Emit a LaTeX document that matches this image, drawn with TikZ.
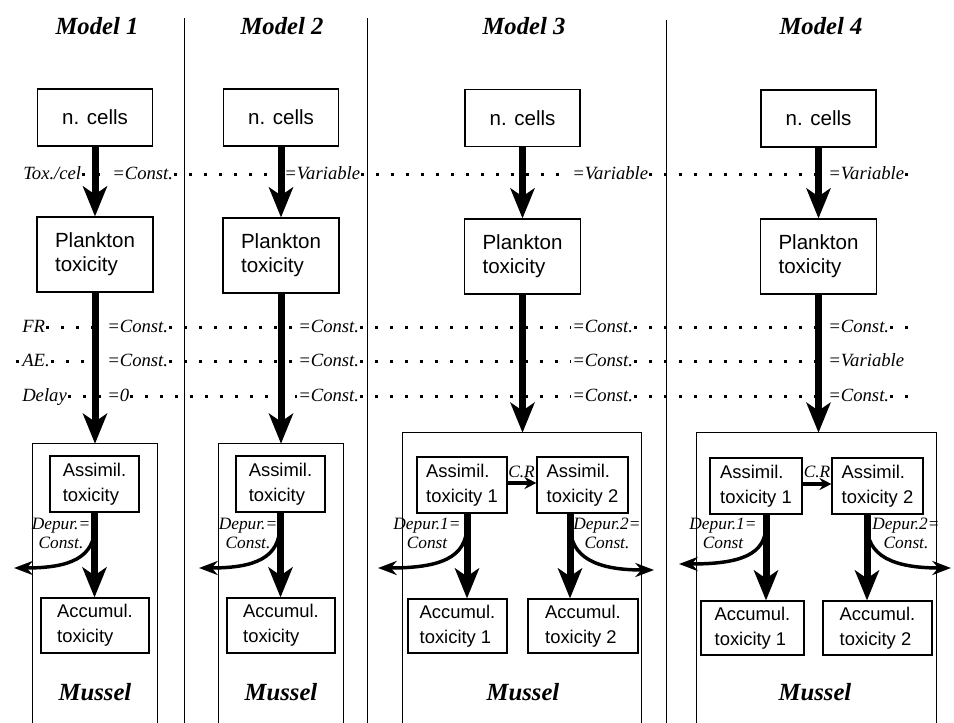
\documentclass[tikz,border=0pt]{standalone}
\usepackage{fontspec}
\setmainfont{Liberation Serif}
\setsansfont{Liberation Sans}
\usetikzlibrary{arrows.meta}
\begin{document}
\begin{tikzpicture}[x=0.75pt,y=-0.75pt,
 box/.style={draw, line width=0.8pt, font=\sffamily\fontsize{15.4}{18}\selectfont, align=left, inner sep=0pt},
 ibox/.style={draw, line width=0.8pt, font=\sffamily\fontsize{13.8}{18.5}\selectfont, align=left, inner sep=0pt},
 ttl/.style={font=\bfseries\itshape\fontsize{18.5}{20}\selectfont, anchor=base, inner sep=0pt},
 lbl/.style={font=\itshape\fontsize{14}{16}\selectfont, inner sep=0.75pt, text height=7.5pt, text depth=0pt, anchor=west},
 dlbl/.style={font=\itshape\fontsize{13}{14.25}\selectfont, align=center, inner sep=0pt},
 dotrow/.style={line width=2.25pt, dash pattern=on 2.25pt off 9pt},
 big/.style={line width=5.25pt, -{Stealth[length=22.5pt, width=18pt, inset=6pt]}},
 depur/.style={line width=2.6pt, -{Stealth[length=14pt, width=10.5pt, inset=4.5pt]}},
 cr/.style={line width=3pt, -{Stealth[length=9pt, width=9pt, inset=3pt]}},
 sepline/.style={line width=0.6pt},
 shell/.style={draw=none, inner sep=0pt}]
\useasboundingbox (0,0) rectangle (954,723);

% separators
\draw[sepline] (184,18) -- (184,723);
\draw[sepline] (367,18) -- (367,723);
\draw[sepline] (666,20) -- (666,723);

% titles
\node[ttl] (tt1) at (97,35) {Model 1};
\node[ttl] (tt2) at (282,35) {Model 2};
\node[ttl] (tt3) at (524,35) {Model 3};
\node[ttl] (tt4) at (821,35) {Model 4};

% top boxes
\node[box, minimum width=86.25pt, minimum height=42.75pt] (nc1) at (95,117.5) {n. cells};
\node[box, minimum width=86.25pt, minimum height=42.75pt] (nc2) at (281,117.5) {n. cells};
\node[box, minimum width=86.25pt, minimum height=42.75pt] (nc3) at (522.5,118) {n. cells};
\node[box, minimum width=86.25pt, minimum height=42.75pt] (nc4) at (818.5,118.5) {n. cells};

\node[box, minimum width=87pt, minimum height=56.25pt] (pt1) at (95,254.5) {Plankton\\toxicity};
\node[box, minimum width=87pt, minimum height=56.25pt] (pt2) at (281,255.5) {Plankton\\toxicity};
\node[box, minimum width=87pt, minimum height=56.25pt] (pt3) at (522.5,256.5) {Plankton\\toxicity};
\node[box, minimum width=87pt, minimum height=56.25pt] (pt4) at (818.5,256.5) {Plankton\\toxicity};

% row labels: Tox./cel
\node[lbl] (tox) at (22,175) {Tox./cel};
\node[lbl] (t1) at (111,175) {=Const.};
\node[lbl] (t2) at (283,175) {=Variable};
\node[lbl] (t3) at (571,175) {=Variable};
\node[lbl] (t4) at (827,175) {=Variable};
\coordinate (tend) at (918,175);
\draw[dotrow] (tox.east) -- (t1.west);
\draw[dotrow] (t1.east) -- (t2.west);
\draw[dotrow] (t2.east) -- (t3.west);
\draw[dotrow] (t3.east) -- (t4.west);
\draw[dotrow] (t4.east) -- (tend);

% FR
\node[lbl] (fr) at (21,328) {FR};
\node[lbl] (f1) at (106,328) {=Const.};
\node[lbl] (f2) at (297,328) {=Const.};
\node[lbl] (f3) at (571,328) {=Const.};
\node[lbl] (f4) at (827,328) {=Const.};
\coordinate (fend) at (920,328);
\draw[dotrow] (fr.east) -- (f1.west);
\draw[dotrow] (f1.east) -- (f2.west);
\draw[dotrow] (f2.east) -- (f3.west);
\draw[dotrow] (f3.east) -- (f4.west);
\draw[dotrow] (f4.east) -- (fend);

% AE
\coordinate (aedot) at (16,362);
\node[lbl] (ae) at (21,362) {AE.};
\node[lbl] (a1) at (106,362) {=Const.};
\node[lbl] (a2) at (297,362) {=Const.};
\node[lbl] (a3) at (571,362) {=Const.};
\node[lbl] (a4) at (827,362) {=Variable};
\draw[dotrow] (aedot) -- (ae.west);
\draw[dotrow] (ae.east) -- (a1.west);
\draw[dotrow] (a1.east) -- (a2.west);
\draw[dotrow] (a2.east) -- (a3.west);
\draw[dotrow] (a3.east) -- (a4.west);

% Delay
\node[lbl] (dl) at (21,397) {Delay};
\node[lbl] (d1) at (106,397) {=0};
\node[lbl] (d2) at (297,397) {=Const.};
\node[lbl] (d3) at (571,397) {=Const.};
\node[lbl] (d4) at (827,397) {=Const.};
\coordinate (dend) at (920,397);
\draw[dotrow] (dl.east) -- (d1.west);
\draw[dotrow] (d1.east) -- (d2.west);
\draw[dotrow] (d2.east) -- (d3.west);
\draw[dotrow] (d3.east) -- (d4.west);
\draw[dotrow] (d4.east) -- (dend);

% mussel shells
\node[shell, minimum width=93pt, minimum height=209.25pt] (mu1) at (95,583.5) {};
\node[shell, minimum width=93pt, minimum height=209.25pt] (mu2) at (281,583.5) {};
\node[shell, minimum width=178.5pt, minimum height=217.5pt] (mu3) at (522,578) {};
\node[shell, minimum width=179.25pt, minimum height=217.5pt] (mu4) at (816.5,578) {};
\foreach \m in {mu1,mu2,mu3,mu4}
  \draw[line width=0.8pt] (\m.south west) -- (\m.north west) -- (\m.north east) -- (\m.south east);

\node[ttl] (ms1) at (95,700) {Mussel};
\node[ttl] (ms2) at (281,700) {Mussel};
\node[ttl] (ms3) at (523,700) {Mussel};
\node[ttl] (ms4) at (815,700) {Mussel};

% inner boxes
\node[ibox, minimum width=66.75pt, minimum height=42pt] (as1) at (94.5,484) {Assimil.\\toxicity};
\node[ibox, minimum width=81pt, minimum height=41.25pt] (ac1) at (95,625.5) {Accumul.\\toxicity};
\node[ibox, minimum width=66.75pt, minimum height=42pt] (as2) at (280.5,484) {Assimil.\\toxicity};
\node[ibox, minimum width=81pt, minimum height=41.25pt] (ac2) at (281,625.5) {Accumul.\\toxicity};

\node[ibox, minimum width=67.5pt, minimum height=42pt] (as31) at (462,485) {Assimil.\\toxicity 1};
\node[ibox, minimum width=68.25pt, minimum height=42pt] (as32) at (582.5,485) {Assimil.\\toxicity 2};
\node[ibox, minimum width=74.25pt, minimum height=40.5pt] (ac31) at (457.5,626) {Accumul.\\toxicity 1};
\node[ibox, minimum width=82.5pt, minimum height=40.5pt] (ac32) at (583,626) {Accumul.\\toxicity 2};

\node[ibox, minimum width=69pt, minimum height=42pt] (as41) at (756,486) {Assimil.\\toxicity 1};
\node[ibox, minimum width=68.25pt, minimum height=42pt] (as42) at (877.5,486) {Assimil.\\toxicity 2};
\node[ibox, minimum width=77.25pt, minimum height=40.5pt] (ac41) at (752.5,628) {Accumul.\\toxicity 1};
\node[ibox, minimum width=81.75pt, minimum height=40.5pt] (ac42) at (877.5,628) {Accumul.\\toxicity 2};

% depuration labels
\node[dlbl] (dp1) at (61,533) {Depur.=\\Const.};
\node[dlbl] (dp2) at (248,533) {Depur.=\\Const.};
\node[dlbl] (dp31) at (427,533) {Depur.1=\\Const};
\node[dlbl] (dp32) at (607,533) {Depur.2=\\Const.};
\node[dlbl] (dp41) at (723,533) {Depur.1=\\Const};
\node[dlbl] (dp42) at (906,533) {Depur.2=\\Const.};

% C.R labels
\node[font=\itshape\fontsize{13}{14}\selectfont, inner sep=0pt, anchor=base] (cr3) at (521.5,478) {C.R};
\node[font=\itshape\fontsize{13}{14}\selectfont, inner sep=0pt, anchor=base] (cr4) at (817,478) {C.R};

% depuration curves
\coordinate (ds1) at (95,525);   \coordinate (de1) at (14,568);
\coordinate (ds2) at (280,525);  \coordinate (de2) at (199,568);
\coordinate (ds31) at (467,525); \coordinate (de31) at (378,568);
\coordinate (ds32) at (570,525); \coordinate (de32) at (654,570);
\coordinate (ds41) at (766,525); \coordinate (de41) at (679,564);
\coordinate (ds42) at (867,525); \coordinate (de42) at (951,568);
\draw[depur] (ds1) .. controls (95,558) and (70,568) .. (de1);
\draw[depur] (ds2) .. controls (280,558) and (255,568) .. (de2);
\draw[depur] (ds31) .. controls (467,558) and (440,568) .. (de31);
\draw[depur] (ds32) .. controls (570,558) and (597,570) .. (de32);
\draw[depur] (ds41) .. controls (766,555) and (740,564) .. (de41);
\draw[depur] (ds42) .. controls (867,556) and (893,568) .. (de42);

% big arrows
\draw[big] (nc1.south) -- (pt1.north);
\draw[big] (nc2.south) -- (pt2.north);
\draw[big] (nc3.south) -- (pt3.north);
\draw[big] (nc4.south) -- (pt4.north);
\draw[big] (pt1.south) -- (pt1.south |- mu1.north);
\draw[big] (pt2.south) -- (pt2.south |- mu2.north);
\draw[big] (pt3.south) -- (pt3.south |- mu3.north);
\draw[big] (pt4.south) -- (pt4.south |- mu4.north);

\draw[big] (as1.south) -- (as1.south |- ac1.north);
\draw[big] (as2.south) -- (as2.south |- ac2.north);
\coordinate (s31) at ([xshift=3.75pt]as31.south);
\coordinate (s32) at ([xshift=-9.375pt]as32.south);
\coordinate (s41) at ([xshift=7.5pt]as41.south);
\coordinate (s42) at ([xshift=-7.875pt]as42.south);
\draw[big] (s31) -- (s31 |- ac31.north);
\draw[big] (s32) -- (s32 |- ac32.north);
\draw[big] (s41) -- (s41 |- ac41.north);
\draw[big] (s42) -- (s42 |- ac42.north);

% C.R arrows
\draw[cr] ([yshift=1.5pt]as31.east) -- ([yshift=1.5pt]as32.west);
\draw[cr] ([yshift=1.5pt]as41.east) -- ([yshift=1.5pt]as42.west);
\end{tikzpicture}
\end{document}
